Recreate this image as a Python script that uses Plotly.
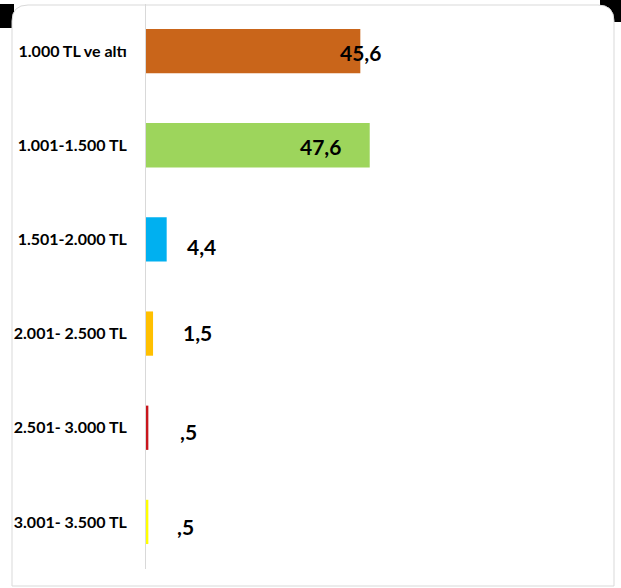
import plotly.graph_objects as go

categories = ["1.000 TL ve altı", "1.001-1.500 TL", "1.501-2.000 TL",
              "2.001- 2.500 TL", "2.501- 3.000 TL", "3.001- 3.500 TL"]
values = [45.6, 47.6, 4.4, 1.5, 0.5, 0.5]
value_labels = ["45,6", "47,6", "4,4", "1,5", ",5", ",5"]

# style
colors = ["#C9651A", "#9DD55C", "#00B0F0", "#FFC000", "#C8161D", "#FFFF00"]
label_dx = [0.0, -10.4, 7.5, 9.4, 8.6, 7.8]   # label offsets (axis units)
label_dy = [-1, -1, -7, 1, -4, -5]            # label offsets (px)

W, H = 621, 588
ML, MR, MT, MB = 146, 5, 4, 19
PW, PH = W - ML - MR, H - MT - MB


def px(x):
    return (x - ML) / PW


def py(y):
    return 1 - (y - MT) / PH


fig = go.Figure()
fig.add_trace(go.Bar(
    y=categories, x=values, orientation="h",
    marker=dict(color=colors, line=dict(width=0)),
    width=0.47, hoverinfo="skip",
))

for c, v, t, dx, dy in zip(categories, values, value_labels, label_dx, label_dy):
    fig.add_annotation(x=v + dx, y=c, text=t, showarrow=False, yshift=dy,
                       xanchor="center", yanchor="middle",
                       font=dict(family="Lato", size=21, color="#000000", weight="bold"))

# frame: black top corners and a rounded light-gray border
fig.add_shape(type="rect", xref="paper", yref="paper", layer="below",
              x0=px(0), x1=px(14), y0=py(4), y1=py(28),
              fillcolor="#000000", line=dict(width=0))
fig.add_shape(type="rect", xref="paper", yref="paper", layer="below",
              x0=px(600), x1=px(621), y0=py(0), y1=py(22),
              fillcolor="#000000", line=dict(width=0))
x0, x1, y0, y1, r = 12, 614, 5, 586, 16
path = (f"M {px(x0 + r)},{py(y0)} L {px(x1 - r)},{py(y0)} "
        f"Q {px(x1)},{py(y0)} {px(x1)},{py(y0 + r)} "
        f"L {px(x1)},{py(y1)} L {px(x0)},{py(y1)} L {px(x0)},{py(y0 + r)} "
        f"Q {px(x0)},{py(y0)} {px(x0 + r)},{py(y0)} Z")
fig.add_shape(type="path", xref="paper", yref="paper", layer="below", path=path,
              fillcolor="#FFFFFF", line=dict(color="#D9D9D9", width=1))

fig.update_layout(
    width=W, height=H,
    margin=dict(l=ML, r=MR, t=MT, b=MB, autoexpand=False),
    paper_bgcolor="#FFFFFF", plot_bgcolor="rgba(0,0,0,0)",
    showlegend=False,
    xaxis=dict(range=[0, 100], showgrid=False, zeroline=False,
               showticklabels=False, showline=False, fixedrange=True),
    yaxis=dict(categoryorder="array", categoryarray=categories[::-1],
               showgrid=False, zeroline=False, showline=True,
               linecolor="#D9D9D9", linewidth=1, ticks="",
               ticklabelstandoff=15,
               tickfont=dict(family="Lato", size=16, color="#000000", weight="bold")),
)

fig.write_html("out.html", config={"displayModeBar": False},
               post_script="document.body.style.margin='0';")
